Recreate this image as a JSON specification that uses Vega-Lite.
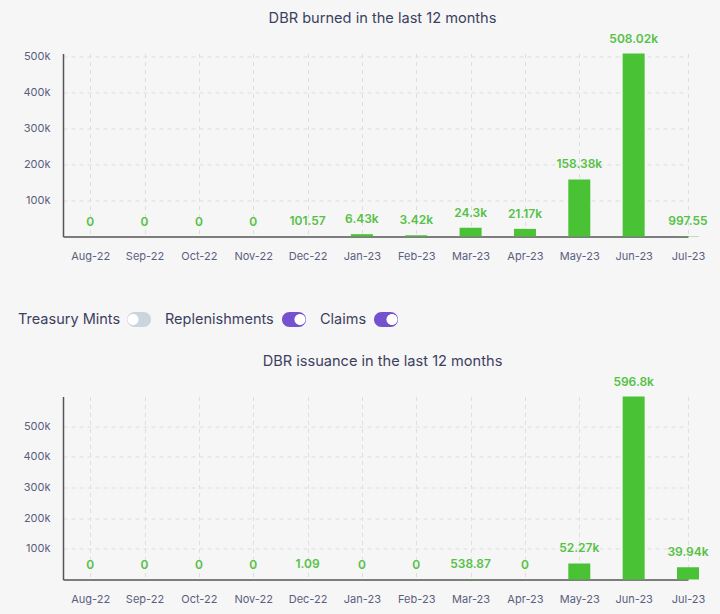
{
  "$schema": "https://vega.github.io/schema/vega-lite/v6.json",
  "background": "#f6f6f6",
  "padding": {"left": 0, "top": 10.5, "right": 11, "bottom": 10},
  "datasets": {
    "burned": [
      {"month": "Aug-22", "value": 0, "label": "0"},
      {"month": "Sep-22", "value": 0, "label": "0"},
      {"month": "Oct-22", "value": 0, "label": "0"},
      {"month": "Nov-22", "value": 0, "label": "0"},
      {"month": "Dec-22", "value": 101.57, "label": "101.57"},
      {"month": "Jan-23", "value": 6430, "label": "6.43k"},
      {"month": "Feb-23", "value": 3420, "label": "3.42k"},
      {"month": "Mar-23", "value": 24300, "label": "24.3k"},
      {"month": "Apr-23", "value": 21170, "label": "21.17k"},
      {"month": "May-23", "value": 158380, "label": "158.38k"},
      {"month": "Jun-23", "value": 508020, "label": "508.02k"},
      {"month": "Jul-23", "value": 997.55, "label": "997.55"}
    ],
    "issuance": [
      {"month": "Aug-22", "value": 0, "label": "0"},
      {"month": "Sep-22", "value": 0, "label": "0"},
      {"month": "Oct-22", "value": 0, "label": "0"},
      {"month": "Nov-22", "value": 0, "label": "0"},
      {"month": "Dec-22", "value": 1.09, "label": "1.09"},
      {"month": "Jan-23", "value": 0, "label": "0"},
      {"month": "Feb-23", "value": 0, "label": "0"},
      {"month": "Mar-23", "value": 538.87, "label": "538.87"},
      {"month": "Apr-23", "value": 0, "label": "0"},
      {"month": "May-23", "value": 52270, "label": "52.27k"},
      {"month": "Jun-23", "value": 596800, "label": "596.8k"},
      {"month": "Jul-23", "value": 39940, "label": "39.94k"}
    ]
  },
  "align": "none",
  "spacing": 24,
  "vconcat": [
    {
      "align": "none",
      "spacing": 48,
      "vconcat": [
        {
          "title": {"text": "DBR burned in the last 12 months", "dx": 7},
          "width": 625,
          "height": 183,
          "data": {"name": "burned"},
          "encoding": {
            "x": {
              "field": "month",
              "type": "nominal",
              "sort": null,
              "title": null,
              "scale": {"type": "point", "padding": 0.25, "align": 1}
            },
            "y": {
              "field": "value",
              "type": "quantitative",
              "title": null,
              "scale": {"domain": [0, 508020], "nice": false},
              "axis": {"values": [100000, 200000, 300000, 400000, 500000], "format": ".0s"}
            }
          },
          "layer": [
            {"mark": {"type": "bar", "size": 22, "color": "#49c236"}},
            {
              "mark": {"type": "text", "baseline": "bottom", "dy": -8, "color": "#55c145", "fontSize": 12, "fontWeight": 600, "font": "Inter"},
              "encoding": {"text": {"field": "label"}}
            }
          ]
        },
        {
          "spacing": 14,
          "hconcat": [
            {
              "width": 88,
              "height": 20,
              "data": {"values": [{"control": "Treasury Mints", "state": "off"}]},
              "layer": [
                {
                  "mark": {"type": "text", "align": "left", "fontSize": 14.5, "font": "Inter", "color": "#3c3f5f"},
                  "encoding": {
                    "x": {"field": "control", "type": "nominal", "axis": null, "scale": {"range": [-45, -45]}},
                    "text": {"field": "control"}
                  }
                },
                {
                  "mark": {"type": "point", "filled": true, "size": 576, "opacity": 1, "shape": "M-.375,-.625H.375A.625,.625 0 0 1 .375,.625H-.375A.625,.625 0 0 1 -.375,-.625Z"},
                  "encoding": {
                    "x": {"field": "control", "type": "nominal", "axis": null, "scale": {"range": [76, 76]}},
                    "color": {"field": "state", "type": "nominal", "legend": null, "scale": {"domain": ["off", "on"], "range": ["#cbd5e0", "#7551cd"]}}
                  }
                },
                {
                  "mark": {"type": "point", "filled": true, "size": 576, "opacity": 1, "color": "#ffffff"},
                  "encoding": {
                    "x": {"field": "control", "type": "nominal", "axis": null, "scale": {"range": [76, 76]}},
                    "shape": {"field": "state", "type": "nominal", "legend": null, "scale": {"domain": ["off", "on"], "range": ["M-.96,0A.46,.46 0 1 1 -.04,0A.46,.46 0 1 1 -.96,0Z", "M.04,0A.46,.46 0 1 1 .96,0A.46,.46 0 1 1 .04,0Z"]}}
                  }
                }
              ],
              "resolve": {"scale": {"x": "independent"}}
            },
            {
              "width": 141,
              "height": 20,
              "data": {"values": [{"control": "Replenishments", "state": "on"}]},
              "layer": [
                {
                  "mark": {"type": "text", "align": "left", "fontSize": 14.5, "font": "Inter", "color": "#3c3f5f"},
                  "encoding": {
                    "x": {"field": "control", "type": "nominal", "axis": null, "scale": {"range": [0, 0]}},
                    "text": {"field": "control"}
                  }
                },
                {
                  "mark": {"type": "point", "filled": true, "size": 576, "opacity": 1, "shape": "M-.375,-.625H.375A.625,.625 0 0 1 .375,.625H-.375A.625,.625 0 0 1 -.375,-.625Z"},
                  "encoding": {
                    "x": {"field": "control", "type": "nominal", "axis": null, "scale": {"range": [129, 129]}},
                    "color": {"field": "state", "type": "nominal", "legend": null, "scale": {"domain": ["off", "on"], "range": ["#cbd5e0", "#7551cd"]}}
                  }
                },
                {
                  "mark": {"type": "point", "filled": true, "size": 576, "opacity": 1, "color": "#ffffff"},
                  "encoding": {
                    "x": {"field": "control", "type": "nominal", "axis": null, "scale": {"range": [129, 129]}},
                    "shape": {"field": "state", "type": "nominal", "legend": null, "scale": {"domain": ["off", "on"], "range": ["M-.96,0A.46,.46 0 1 1 -.04,0A.46,.46 0 1 1 -.96,0Z", "M.04,0A.46,.46 0 1 1 .96,0A.46,.46 0 1 1 .04,0Z"]}}
                  }
                }
              ],
              "resolve": {"scale": {"x": "independent"}}
            },
            {
              "width": 78,
              "height": 20,
              "data": {"values": [{"control": "Claims", "state": "on"}]},
              "layer": [
                {
                  "mark": {"type": "text", "align": "left", "fontSize": 14.5, "font": "Inter", "color": "#3c3f5f"},
                  "encoding": {
                    "x": {"field": "control", "type": "nominal", "axis": null, "scale": {"range": [0, 0]}},
                    "text": {"field": "control"}
                  }
                },
                {
                  "mark": {"type": "point", "filled": true, "size": 576, "opacity": 1, "shape": "M-.375,-.625H.375A.625,.625 0 0 1 .375,.625H-.375A.625,.625 0 0 1 -.375,-.625Z"},
                  "encoding": {
                    "x": {"field": "control", "type": "nominal", "axis": null, "scale": {"range": [66, 66]}},
                    "color": {"field": "state", "type": "nominal", "legend": null, "scale": {"domain": ["off", "on"], "range": ["#cbd5e0", "#7551cd"]}}
                  }
                },
                {
                  "mark": {"type": "point", "filled": true, "size": 576, "opacity": 1, "color": "#ffffff"},
                  "encoding": {
                    "x": {"field": "control", "type": "nominal", "axis": null, "scale": {"range": [66, 66]}},
                    "shape": {"field": "state", "type": "nominal", "legend": null, "scale": {"domain": ["off", "on"], "range": ["M-.96,0A.46,.46 0 1 1 -.04,0A.46,.46 0 1 1 -.96,0Z", "M.04,0A.46,.46 0 1 1 .96,0A.46,.46 0 1 1 .04,0Z"]}}
                  }
                }
              ],
              "resolve": {"scale": {"x": "independent"}}
            }
          ]
        }
      ]
    },
    {
      "title": {"text": "DBR issuance in the last 12 months", "dx": 7},
      "width": 625,
      "height": 183,
      "data": {"name": "issuance"},
      "encoding": {
        "x": {
          "field": "month",
          "type": "nominal",
          "sort": null,
          "title": null,
          "scale": {"type": "point", "padding": 0.25, "align": 1}
        },
        "y": {
          "field": "value",
          "type": "quantitative",
          "title": null,
          "scale": {"domain": [0, 596800], "nice": false},
          "axis": {"values": [100000, 200000, 300000, 400000, 500000], "format": ".0s"}
        }
      },
      "layer": [
        {"mark": {"type": "bar", "size": 22, "color": "#49c236"}},
        {
          "mark": {"type": "text", "baseline": "bottom", "dy": -8, "color": "#55c145", "fontSize": 12, "fontWeight": 600, "font": "Inter"},
          "encoding": {"text": {"field": "label"}}
        }
      ]
    }
  ],
  "config": {
    "font": "Inter",
    "view": {"stroke": null},
    "title": {"font": "Inter", "fontSize": 14.6, "fontWeight": 400, "color": "#3c3f5f", "offset": 7, "anchor": "middle"},
    "axis": {
      "labelFont": "Inter",
      "labelFontSize": 11,
      "labelColor": "#5b5e7e",
      "grid": true,
      "gridColor": "#dedede",
      "gridDash": [4, 4],
      "ticks": false,
      "domainColor": "#555555",
      "domainWidth": 1.5
    },
    "axisX": {"labelAngle": 0, "labelPadding": 14},
    "axisY": {"labelPadding": 13, "minExtent": 63, "maxExtent": 63}
  }
}
